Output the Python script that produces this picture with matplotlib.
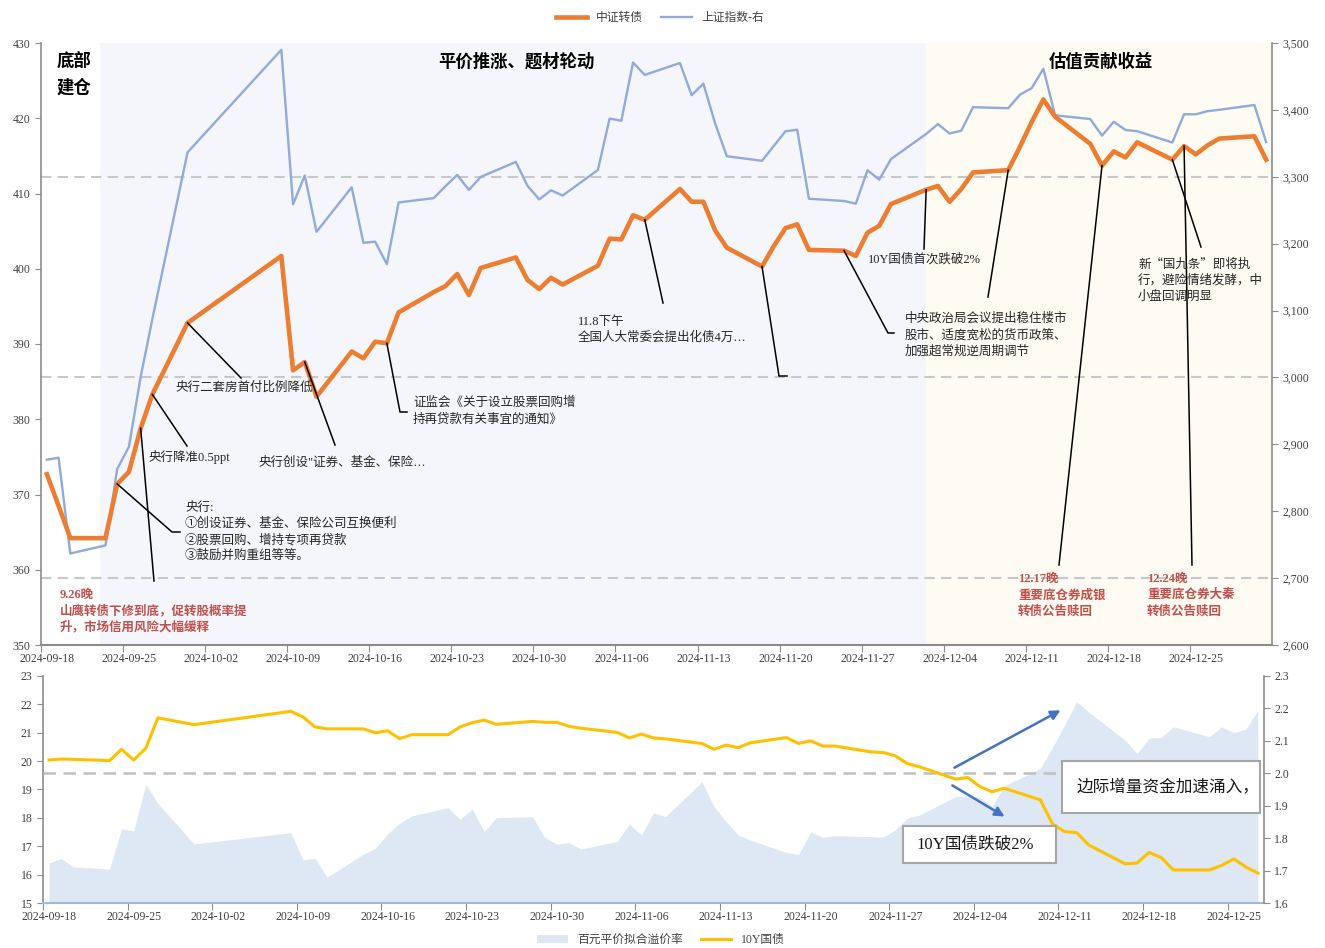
import matplotlib
matplotlib.use("Agg")
import matplotlib.pyplot as plt
import pandas as pd
from matplotlib.lines import Line2D
from matplotlib.patches import Patch, Rectangle, FancyArrowPatch
from matplotlib.ticker import FuncFormatter, NullFormatter

plt.rcParams['font.family'] = ['Liberation Serif', 'Noto Sans CJK SC', 'DejaVu Sans']

giorni = ["2024-09-18", "2024-09-19", "2024-09-20", "2024-09-23", "2024-09-24", "2024-09-25",
          "2024-09-26", "2024-09-27", "2024-09-30", "2024-10-08", "2024-10-09", "2024-10-10",
          "2024-10-11", "2024-10-14", "2024-10-15", "2024-10-16", "2024-10-17", "2024-10-18",
          "2024-10-21", "2024-10-22", "2024-10-23", "2024-10-24", "2024-10-25", "2024-10-28",
          "2024-10-29", "2024-10-30", "2024-10-31", "2024-11-01", "2024-11-04", "2024-11-05",
          "2024-11-06", "2024-11-07", "2024-11-08", "2024-11-11", "2024-11-12", "2024-11-13",
          "2024-11-14", "2024-11-15", "2024-11-18", "2024-11-19", "2024-11-20", "2024-11-21",
          "2024-11-22", "2024-11-25", "2024-11-26", "2024-11-27", "2024-11-28", "2024-11-29",
          "2024-12-02", "2024-12-03", "2024-12-04", "2024-12-05", "2024-12-06", "2024-12-09",
          "2024-12-10", "2024-12-11", "2024-12-12", "2024-12-13", "2024-12-16", "2024-12-17",
          "2024-12-18", "2024-12-19", "2024-12-20", "2024-12-23", "2024-12-24", "2024-12-25",
          "2024-12-26", "2024-12-27", "2024-12-30", "2024-12-31"]

zhongzheng_zhuanzhai = [372.7, 368.5, 364.2, 364.2, 371.4, 373.0, 378.8, 383.3, 392.8, 401.7,
                        386.5, 387.6, 383.0, 389.0, 388.1, 390.3, 390.1, 394.2, 396.9, 397.7,
                        399.3, 396.5, 400.1, 401.5, 398.5, 397.3, 398.8, 397.9, 400.4, 404.0,
                        403.9, 407.1, 406.5, 410.6, 408.9, 408.9, 405.1, 402.8, 400.3, 403.0,
                        405.4, 405.9, 402.5, 402.4, 401.7, 404.8, 405.7, 408.6, 410.5, 411.0,
                        408.9, 410.6, 412.8, 413.1, 416.2, 419.5, 422.5, 420.2, 416.6, 413.7,
                        415.6, 414.8, 416.8, 414.5, 416.3, 415.2, 416.4, 417.3, 417.6, 414.5]

shangzheng = [2877.0, 2880.0, 2736.8, 2748.9, 2863.1, 2896.3, 3000.9, 3087.5, 3336.5, 3489.8,
              3258.9, 3301.9, 3217.7, 3284.3, 3201.3, 3203.0, 3169.4, 3261.6, 3268.1, 3285.9,
              3302.8, 3280.3, 3299.7, 3322.2, 3286.4, 3266.2, 3279.8, 3272.0, 3310.2, 3387.0,
              3383.8, 3470.7, 3452.3, 3470.1, 3422.0, 3439.3, 3379.8, 3330.7, 3323.9, 3346.0,
              3368.0, 3370.4, 3267.2, 3263.8, 3259.8, 3309.8, 3295.7, 3326.5, 3364.0, 3378.8,
              3364.7, 3368.9, 3404.1, 3402.5, 3422.7, 3432.5, 3461.5, 3391.9, 3386.3, 3361.5,
              3382.2, 3370.0, 3368.1, 3351.3, 3393.5, 3393.4, 3398.1, 3400.1, 3407.3, 3351.8]

# il grafico in basso finisce il 27 dicembre
giorni_sotto = giorni[:68]

premio = [16.41, 16.56, 16.27, 16.20, 17.61, 17.54, 19.18, 18.51, 17.08, 17.48,
          16.52, 16.58, 15.91, 16.72, 16.93, 17.44, 17.81, 18.07, 18.36, 17.95,
          18.31, 17.52, 18.01, 18.04, 17.31, 17.08, 17.13, 16.90, 17.17, 17.78,
          17.40, 18.18, 18.04, 19.27, 18.40, 17.87, 17.40, 17.22, 16.78, 16.70,
          17.50, 17.32, 17.37, 17.34, 17.32, 17.58, 17.99, 18.10, 18.75, 18.77,
          18.72, 18.40, 19.12, 19.74, 20.48, 21.27, 22.09, 21.73, 20.74, 20.27,
          20.82, 20.83, 21.21, 20.86, 21.21, 21.00, 21.13, 21.79]

guozhai_10y = [2.041, 2.044, 2.043, 2.039, 2.074, 2.041, 2.077, 2.171, 2.150, 2.191,
               2.174, 2.143, 2.137, 2.137, 2.125, 2.131, 2.107, 2.119, 2.119, 2.143,
               2.156, 2.164, 2.151, 2.160, 2.157, 2.157, 2.145, 2.139, 2.126, 2.109,
               2.121, 2.109, 2.106, 2.092, 2.074, 2.087, 2.079, 2.094, 2.110, 2.092,
               2.100, 2.084, 2.084, 2.066, 2.064, 2.054, 2.030, 2.020, 1.982, 1.987,
               1.959, 1.943, 1.954, 1.918, 1.844, 1.820, 1.817, 1.779, 1.721, 1.723,
               1.756, 1.740, 1.702, 1.702, 1.716, 1.736, 1.711, 1.692]

etichette_settimane = ["2024-09-18", "2024-09-25", "2024-10-02", "2024-10-09", "2024-10-16",
                       "2024-10-23", "2024-10-30", "2024-11-06", "2024-11-13", "2024-11-20",
                       "2024-11-27", "2024-12-04", "2024-12-11", "2024-12-18", "2024-12-25"]

inizio = pd.Timestamp("2024-09-18")
x_top = (pd.to_datetime(giorni) - inizio).days.values
x_bot = (pd.to_datetime(giorni_sotto) - inizio).days.values
x_sett = (pd.to_datetime(etichette_settimane) - inizio).days.values

W, H = 1325, 948
GRIGIO_TESTO = "#404040"
ROSSO = "#C0504D"


def fx(x):
    return x / W


def fy(y):
    return 1 - y / H


def sistema_asse_x(ax, xmax):
    ax.set_xlim(-0.5, xmax + 0.5)
    ax.set_xticks(x_sett - 0.5)
    ax.xaxis.set_major_formatter(NullFormatter())
    ax.set_xticks(x_sett, minor=True)
    ax.set_xticklabels(etichette_settimane, minor=True)
    ax.tick_params(axis="x", which="major", length=5, color="#8C8C8C", direction="out")
    ax.tick_params(axis="x", which="minor", length=0, pad=6, labelsize=8.5, labelcolor=GRIGIO_TESTO)


def stile_spine(ax, lato):
    for s in ["top", "left", "right", "bottom"]:
        ax.spines[s].set_visible(False)
    ax.spines[lato].set_visible(True)
    ax.spines[lato].set_color("#8C8C8C")
    ax.spines[lato].set_linewidth(1.2)
    ax.tick_params(axis="y", length=4, color="#8C8C8C", labelsize=8.5, labelcolor=GRIGIO_TESTO)


fig = plt.figure(figsize=(13.25, 9.48), dpi=100)

# ---------------- grafico superiore ----------------
ax = fig.add_axes([fx(41), fy(645), (1272 - 41) / W, (645 - 43) / H])
ax2 = ax.twinx()
ax.set_zorder(ax2.get_zorder() + 1)
ax.patch.set_visible(False)

ax2.axvspan(4.5, 75, color="#F4F6FB", lw=0, zorder=0)
ax2.axvspan(75, 104.5, color="#FEFBF3", lw=0, zorder=0)
for livello in [3300, 3000, 2700]:
    ax2.axhline(livello, color="#C8C8C8", lw=1.5, ls=(0, (5, 3)), zorder=1)

ax2.plot(x_top, shangzheng, color="#8FAADC", lw=1.7, zorder=2)
ax.plot(x_top, zhongzheng_zhuanzhai, color="#ED7D31", lw=3.3, zorder=3)

ax.set_ylim(350, 430)
ax.set_yticks(range(350, 431, 10))
ax2.set_ylim(2600, 3500)
ax2.set_yticks(range(2600, 3501, 100))
ax2.yaxis.set_major_formatter(FuncFormatter(lambda v, p: f"{v:,.0f}"))
sistema_asse_x(ax, 104)
stile_spine(ax, "left")
ax.spines["bottom"].set_visible(True)
ax.spines["bottom"].set_color("#8C8C8C")
ax.spines["bottom"].set_linewidth(1.5)
stile_spine(ax2, "right")

# ---------------- grafico inferiore ----------------
axb = fig.add_axes([fx(43), fy(903), (1264 - 43) / W, (903 - 676) / H])
axb2 = axb.twinx()
axb.fill_between(x_bot, premio, 0, color="#DDE8F4", lw=0)
axb2.plot(x_bot, guozhai_10y, color="#FFC000", lw=2.2, zorder=3)
axb2.axhline(2.0, color="#BFBFBF", lw=1.8, ls=(0, (5, 3)), zorder=2)
axb.set_ylim(15, 23)
axb.set_yticks(range(15, 24))
axb2.set_ylim(1.6, 2.3)
axb2.set_yticks([1.6, 1.7, 1.8, 1.9, 2.0, 2.1, 2.2, 2.3])
axb2.yaxis.set_major_formatter(FuncFormatter(lambda v, p: f"{v:.1f}"))
sistema_asse_x(axb, 100)
stile_spine(axb, "left")
axb.spines["bottom"].set_visible(True)
axb.spines["bottom"].set_color("#A6B8D0")
axb.spines["bottom"].set_linewidth(1.5)
stile_spine(axb2, "right")


# ---------------- annotazioni ----------------
def punto(giorno):
    i = giorni.index(giorno)
    disp = ax.transData.transform((x_top[i], zhongzheng_zhuanzhai[i]))
    return fig.transFigure.inverted().transform(disp)


def linea_guida(giorno, *pixel):
    p0 = punto(giorno)
    xs = [p0[0]] + [fx(p[0]) for p in pixel]
    ys = [p0[1]] + [fy(p[1]) for p in pixel]
    fig.add_artist(Line2D(xs, ys, transform=fig.transFigure, color="black", lw=1.1))


def nota(x, y, righe, passo=16, **kw):
    stile = dict(fontsize=9, color="#262626", va="center", ha="left")
    stile.update(kw)
    for k, r in enumerate(righe):
        fig.text(fx(x), fy(y + k * passo), r, **stile)


titolo = dict(fontsize=12.5, fontweight="bold", color="black", va="center",
              family=["Noto Sans CJK SC", "DejaVu Sans"])
fig.text(fx(57), fy(62), "底部", ha="left", **titolo)
fig.text(fx(57), fy(88), "建仓", ha="left", **titolo)
fig.text(fx(516), fy(62), "平价推涨、题材轮动", ha="center", **titolo)
fig.text(fx(1101), fy(62), "估值贡献收益", ha="center", **titolo)

linea_guida("2024-09-30", (241, 378))
nota(175, 388, ["央行二套房首付比例降低"])

linea_guida("2024-09-27", (187, 446))
nota(148, 457, ["央行降准0.5ppt"])

linea_guida("2024-09-26", (154, 581))

linea_guida("2024-09-24", (172, 532), (180, 532))
nota(185, 508, ["央行:", "①创设证券、基金、保险公司互换便利", "②股票回购、增持专项再贷款",
                "③鼓励并购重组等等。"])

nota(60, 595, ["9.26晚", "山鹰转债下修到底，促转股概率提", "升，市场信用风险大幅缓释"],
     color=ROSSO, fontweight="bold")

linea_guida("2024-10-10", (335, 445))
nota(258, 463, ["央行创设\"证券、基金、保险…"])

linea_guida("2024-10-17", (400, 412), (407, 412))
nota(413, 403, ["证监会《关于设立股票回购增", "持再贷款有关事宜的通知》"])

linea_guida("2024-11-08", (663, 303))
nota(578, 322, ["11.8下午", "全国人大常委会提出化债4万…"])

linea_guida("2024-11-18", (779, 376), (787, 376))

linea_guida("2024-12-02", (924, 249))
nota(868, 259, ["10Y国债首次跌破2%"])

linea_guida("2024-11-25", (888, 333), (894, 333))
linea_guida("2024-12-09", (988, 297))
nota(905, 319, ["中央政治局会议提出稳住楼市", "股市、适度宽松的货币政策、", "加强超常规逆周期调节"])

linea_guida("2024-12-23", (1201, 247))
nota(1138, 264, ["新“国九条”即将执", "行，避险情绪发酵，中", "小盘回调明显"],
     family=["Noto Sans CJK SC", "DejaVu Sans"])

linea_guida("2024-12-17", (1059, 565))
nota(1018, 579, ["12.17晚", "重要底仓券成银", "转债公告赎回"], color=ROSSO, fontweight="bold")

linea_guida("2024-12-24", (1192, 565))
nota(1147, 579, ["12.24晚", "重要底仓券大秦", "转债公告赎回"], color=ROSSO, fontweight="bold")

# riquadri e frecce del grafico inferiore
for (x0, y0, x1, y1) in [(903, 826, 1056, 863), (1062, 761, 1260, 813)]:
    fig.add_artist(Rectangle((fx(x0), fy(y1)), (x1 - x0) / W, (y1 - y0) / H,
                             transform=fig.transFigure, facecolor="white",
                             edgecolor="#A6A6A6", lw=1.5, zorder=5))
fig.text(fx(916), fy(845), "10Y国债跌破2%", fontsize=12, color="#1a1a1a", va="center", zorder=6)
fig.text(fx(1077), fy(787), "边际增量资金加速涌入，", fontsize=12, color="#1a1a1a", va="center", zorder=6)

for (a, b) in [((952, 769), (1063, 709)), ((950, 784), (1007, 818))]:
    fig.add_artist(FancyArrowPatch((fx(a[0]), fy(a[1])), (fx(b[0]), fy(b[1])),
                                   transform=fig.transFigure, arrowstyle="-|>",
                                   mutation_scale=14, color="#4472C4", lw=1.8, zorder=6))

# legende
fig.legend([Line2D([], [], color="#ED7D31", lw=3.3), Line2D([], [], color="#8FAADC", lw=1.7)],
           ["中证转债", "上证指数-右"], loc="center", bbox_to_anchor=(fx(660), fy(18)),
           ncol=2, frameon=False, fontsize=8.5, handlelength=2.6, columnspacing=1.5,
           labelcolor=GRIGIO_TESTO)
fig.legend([Patch(facecolor="#DDE8F4", edgecolor="none"), Line2D([], [], color="#FFC000", lw=2.2)],
           ["百元平价拟合溢价率", "10Y国债"], loc="center", bbox_to_anchor=(fx(661), fy(940)),
           ncol=2, frameon=False, fontsize=8.5, handlelength=2.6, columnspacing=1.5,
           labelcolor=GRIGIO_TESTO)

fig.savefig("out.png", dpi=100)
